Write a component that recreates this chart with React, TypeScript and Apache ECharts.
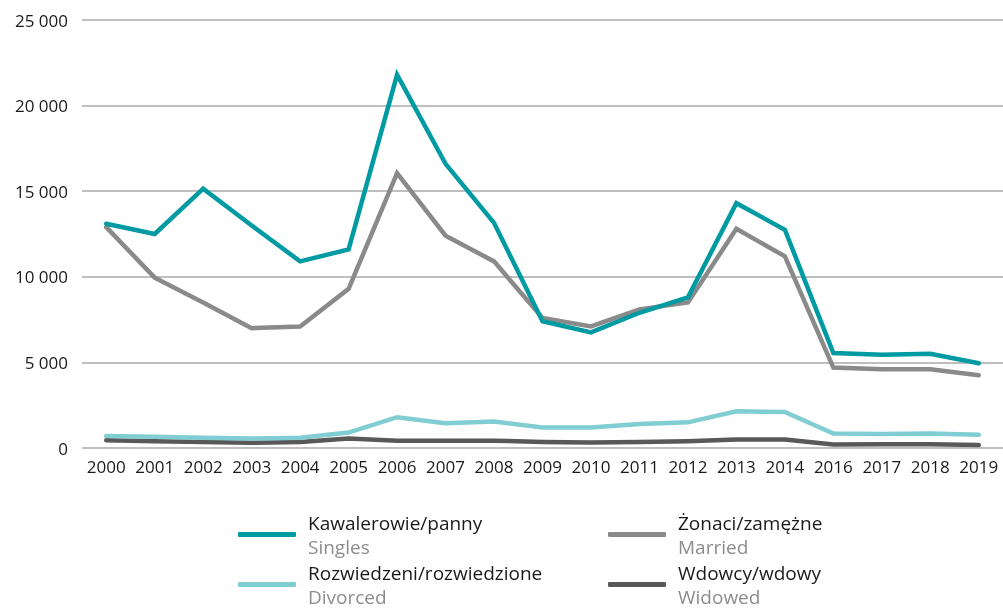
import React, { useEffect, useRef } from "react";
import * as echarts from "echarts";

const years = ["2000","2001","2002","2003","2004","2005","2006","2007","2008","2009","2010","2011","2012","2013","2014","2016","2017","2018","2019"];
const singles = [13100,12500,15150,13000,10900,11600,21800,16600,13150,7400,6750,7900,8800,14300,12750,5550,5450,5500,4950];
const married = [12900,9950,8500,7000,7100,9300,16050,12400,10900,7600,7100,8100,8500,12800,11200,4700,4600,4600,4250];
const divorced = [700,650,600,550,600,900,1800,1450,1550,1200,1200,1400,1500,2150,2100,850,820,850,780];
const widowed = [450,400,350,300,350,550,430,430,430,350,320,350,400,500,500,200,220,220,180];

const seriesNamesPl = ["Kawalerowie/panny", "Żonaci/zamężne", "Rozwiedzeni/rozwiedzione", "Wdowcy/wdowy"];
const seriesNamesEn = ["Singles", "Married", "Divorced", "Widowed"];
const seriesColors = ["#009aa3", "#8a8a8a", "#80cdd2", "#585858"];
const seriesData = [singles, married, divorced, widowed];

const fmt = (v: number) => String(v).replace(/\B(?=(\d{3})+(?!\d))/g, " ");

export default function App() {
  const ref = useRef<HTMLDivElement>(null);
  useEffect(() => {
    const chart = echarts.init(ref.current!, null, { renderer: "svg" });
    const font = "'Open Sans', 'Noto Sans', sans-serif";
    const legendCommon = {
      orient: "vertical",
      top: 513,
      padding: 0,
      itemGap: 7,
      itemWidth: 58,
      itemHeight: 5,
      icon: "roundRect",
      formatter: (name: string) => {
        const i = seriesNamesPl.indexOf(name);
        return `{a|${name}}\n{b|${seriesNamesEn[i]}}`;
      },
      textStyle: {
        rich: {
          a: { fontSize: 19, color: "#1a1a1a", fontFamily: font, lineHeight: 24, padding: [0, 0, 0, 7] },
          b: { fontSize: 19, color: "#8c8c8c", fontFamily: font, lineHeight: 24, padding: [0, 0, 0, 7] },
        },
      },
    };
    chart.setOption({
      animation: false,
      textStyle: { fontFamily: font },
      grid: { left: 82, top: 20, width: 926, height: 428, containLabel: false },
      legend: [
        { ...legendCommon, left: 238, data: [seriesNamesPl[0], seriesNamesPl[2]] },
        { ...legendCommon, left: 608, data: [seriesNamesPl[1], seriesNamesPl[3]] },
      ],
      xAxis: {
        type: "category",
        data: years,
        boundaryGap: true,
        axisLine: { show: false },
        axisTick: { show: false },
        axisLabel: { color: "#1a1a1a", fontSize: 17, margin: 10, fontFamily: font, interval: 0 },
      },
      yAxis: {
        type: "value",
        min: 0,
        max: 25000,
        interval: 5000,
        axisLine: { show: false },
        axisTick: { show: false },
        axisLabel: { color: "#1a1a1a", fontSize: 17, margin: 14, fontFamily: font, formatter: (v: number) => fmt(v) },
        splitLine: { lineStyle: { color: "#a8a8a8", width: 1.5 } },
      },
      series: seriesData.map((d, i) => ({
        name: seriesNamesPl[i],
        type: "line",
        data: d,
        symbol: "none",
        color: seriesColors[i],
        lineStyle: { width: 4.5, color: seriesColors[i], cap: "round", join: "miter" },
        z: 10 - i,
      })),
    });
    return () => chart.dispose();
  }, []);
  return <div ref={ref} style={{ position: "fixed", left: 0, top: 0, width: 1003, height: 613 }} />;
}
